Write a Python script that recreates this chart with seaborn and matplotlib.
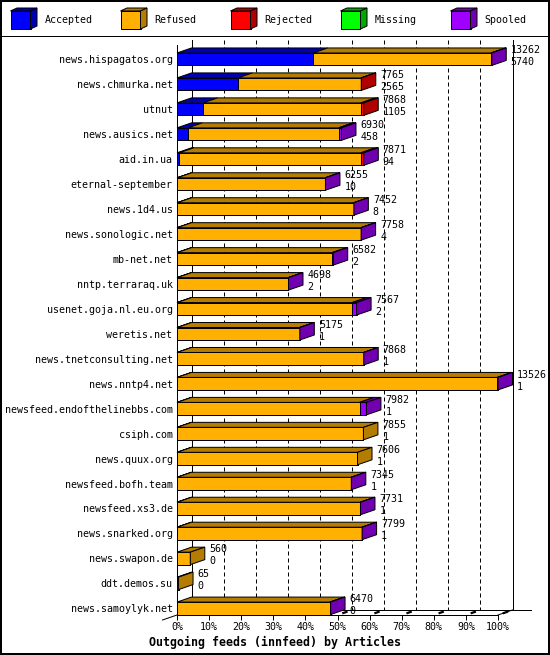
import matplotlib
matplotlib.use("Agg")
import matplotlib.pyplot as plt
import seaborn as sns
import numpy as np
import pandas as pd
from matplotlib.patches import Polygon, Rectangle
from matplotlib.lines import Line2D

hosts = ["news.hispagatos.org", "news.chmurka.net", "utnut", "news.ausics.net",
         "aid.in.ua", "eternal-september", "news.1d4.us", "news.sonologic.net",
         "mb-net.net", "nntp.terraraq.uk", "usenet.goja.nl.eu.org", "weretis.net",
         "news.tnetconsulting.net", "news.nntp4.net", "newsfeed.endofthelinebbs.com",
         "csiph.com", "news.quux.org", "newsfeed.bofh.team", "newsfeed.xs3.de",
         "news.snarked.org", "news.swapon.de", "ddt.demos.su", "news.samoylyk.net"]
offered = [13262, 7765, 7868, 6930, 7871, 6255, 7452, 7758, 6582, 4698, 7567, 5175,
           7868, 13526, 7982, 7855, 7606, 7345, 7731, 7799, 560, 65, 6470]
accepted = [5740, 2565, 1105, 458, 94, 10, 8, 4, 2, 2, 2, 1,
            1, 1, 1, 1, 1, 1, 1, 1, 0, 0, 0]
refused = [7490, 5190, 6650, 6357, 7655, 6240, 7440, 7750, 6530, 4690, 7375, 5170,
           7860, 13485, 7690, 7854, 7605, 7340, 7720, 7795, 560, 65, 6440]
rejected = [0, 10, 113, 15, 110, 0, 0, 0, 0, 0, 0, 0,
            0, 0, 0, 0, 0, 0, 0, 0, 0, 0, 0]
missing = [0, 0, 0, 0, 0, 0, 0, 0, 0, 0, 0, 0,
           0, 0, 0, 0, 0, 0, 0, 0, 0, 0, 0]
spooled = [32, 0, 0, 100, 12, 5, 4, 4, 50, 6, 190, 4,
           7, 40, 291, 0, 0, 4, 10, 3, 0, 0, 30]

series = ["Accepted", "Refused", "Rejected", "Missing", "Spooled"]
front_colors = ["#0000ff", "#ffb000", "#ff0000", "#00ff00", "#a000ff"]
dark_colors = ["#0000b0", "#b47c00", "#b00000", "#00a800", "#7000b0"]
xtick_labels = ["0%", "10%", "20%", "30%", "40%", "50%", "60%", "70%", "80%", "90%", "100%"]
title = "Outgoing feeds (innfeed) by Articles"

MONO = "DejaVu Sans Mono"
FS = 7.2
W, H = 550, 655
PT = 0.72  # points per pixel at 100 dpi
LW = 1 * PT

fig = plt.figure(figsize=(W / 100, H / 100), dpi=100)
fig.patch.set_facecolor("white")


def fx(x):
    return x / W


def fy(y):
    return 1 - y / H


# plot region geometry (pixels)
X0, X1 = 177, 498
Y_TOP, Y_BOT = 40, 615
C0, STEP = 59.2, 24.96
DX, DY = 14.5, 5.0
n = len(hosts)

ax = fig.add_axes([fx(X0), fy(Y_BOT), (X1 - X0) / W, (Y_BOT - Y_TOP) / H])

segs = np.array([accepted, refused, rejected, missing, spooled], dtype=float)
cum = np.cumsum(segs, axis=0)
xmax = float(max(offered))

for k in range(4, -1, -1):
    df = pd.DataFrame({"host": hosts, "value": cum[k]})
    sns.barplot(data=df, x="value", y="host", orient="h", color=front_colors[k],
                saturation=1, edgecolor="black", linewidth=LW, width=0.5,
                errorbar=None, ax=ax, zorder=4)
for p in ax.patches:
    p.set_clip_on(False)

ppx = (X1 - X0) / xmax
dxd = DX / ppx
dyd = DY / STEP
ytop = (Y_TOP - C0) / STEP
ybot = (Y_BOT - C0) / STEP
h = 0.5

# 3D faces
for i in range(n):
    yt, yb = i - h / 2, i + h / 2
    left = 0.0
    last = None
    for k in range(5):
        w = segs[k, i]
        if w <= 0:
            continue
        a, b = left, left + w
        ax.add_patch(Polygon([(a, yt), (b, yt), (b + dxd, yt - dyd), (a + dxd, yt - dyd)],
                             closed=True, fc=dark_colors[k], ec="black", lw=LW,
                             zorder=5, clip_on=False))
        left = b
        last = k
    if last is not None:
        T = left
        ax.add_patch(Polygon([(T, yt), (T + dxd, yt - dyd), (T + dxd, yb - dyd), (T, yb)],
                             closed=True, fc=dark_colors[last], ec="black", lw=LW,
                             zorder=5, clip_on=False))
    T = cum[4, i]
    ax.annotate(str(offered[i]), xy=(T, i), xytext=((DX + 4.5) * PT, 9 * PT),
                textcoords="offset points", ha="left", va="center", fontsize=FS,
                family=MONO, annotation_clip=False, zorder=6)
    ax.annotate(str(accepted[i]), xy=(T, i), xytext=((DX + 4.5) * PT, -3 * PT),
                textcoords="offset points", ha="left", va="center", fontsize=FS,
                family=MONO, annotation_clip=False, zorder=6)

# back wall grid lines
for k in range(11):
    xb = xmax * k / 10 + dxd
    ls = "-" if k in (0, 10) else (0, (4, 3))
    ax.add_line(Line2D([xb, xb], [ytop, ybot - dyd], color="black", lw=LW, ls=ls,
                       zorder=1, clip_on=False))
    xf = xmax * k / 10
    f0, f1 = 0.4, 0.62
    ax.add_line(Line2D([xf + dxd * f0, xf + dxd * f1], [ybot - dyd * f0, ybot - dyd * f1],
                       color="black", lw=1.6, zorder=2, clip_on=False))

# left front wall line
ax.add_line(Line2D([0, 0], [ytop + dyd, ybot], color="black", lw=LW, zorder=3, clip_on=False))
# floor lines
ax.add_line(Line2D([0, xmax], [ybot, ybot], color="black", lw=LW, zorder=3, clip_on=False))
ax.add_line(Line2D([dxd, xmax + dxd + 18 / ppx], [ybot - dyd, ybot - dyd], color="black",
                   lw=LW, zorder=1, clip_on=False))
ax.add_line(Line2D([xmax, xmax + dxd], [ybot, ybot - dyd], color="black", lw=LW,
                   zorder=3, clip_on=False))
ax.add_line(Line2D([-dxd, 0], [ybot + dyd, ybot], color="black", lw=LW, zorder=3,
                   clip_on=False))

ax.set_xlim(0, xmax)
ax.set_ylim(ybot, ytop)
ax.set_xticks([xmax * k / 10 for k in range(11)])
ax.set_xticklabels(xtick_labels, family=MONO, fontsize=FS)
ax.set_yticks(range(n))
ax.set_yticklabels(hosts, family=MONO, fontsize=FS)
ax.tick_params(axis="x", length=5 * PT, width=LW, pad=1.5, direction="out", colors="black")
ax.tick_params(axis="y", length=0, pad=4.5 * PT)
ax.set_xlabel("")
ax.set_ylabel("")
for s in ax.spines.values():
    s.set_visible(False)
ax.patch.set_alpha(0)

fig.text(fx(275), fy(642), title, ha="center", va="center", weight="bold",
         family=MONO, fontsize=8.4)

# legend
for j, name in enumerate(series):
    x0 = 10.5 + 110 * j
    yt, yb, ldx, ldy = 11, 29, 6.5, 3
    front = [(x0, yt), (x0 + 20, yt), (x0 + 20, yb), (x0, yb)]
    top = [(x0, yt), (x0 + 20, yt), (x0 + 20 + ldx, yt - ldy), (x0 + ldx, yt - ldy)]
    side = [(x0 + 20, yt), (x0 + 20 + ldx, yt - ldy), (x0 + 20 + ldx, yb - ldy), (x0 + 20, yb)]
    for pts, col in ((front, front_colors[j]), (top, dark_colors[j]), (side, dark_colors[j])):
        fig.add_artist(Polygon([(fx(a), fy(b)) for a, b in pts], closed=True,
                               transform=fig.transFigure, fc=col, ec="black", lw=LW))
    fig.text(fx(x0 + 34), fy(20), name, ha="left", va="center", family=MONO, fontsize=FS)

fig.add_artist(Line2D([0, 1], [fy(35.5), fy(35.5)], transform=fig.transFigure,
                      color="black", lw=LW))
fig.add_artist(Rectangle((fx(1), fy(653.5)), fx(547.5), (653.5 - 1) / H,
                         transform=fig.transFigure, fill=False, ec="black", lw=2 * PT))

fig.savefig("out.png", dpi=100)
